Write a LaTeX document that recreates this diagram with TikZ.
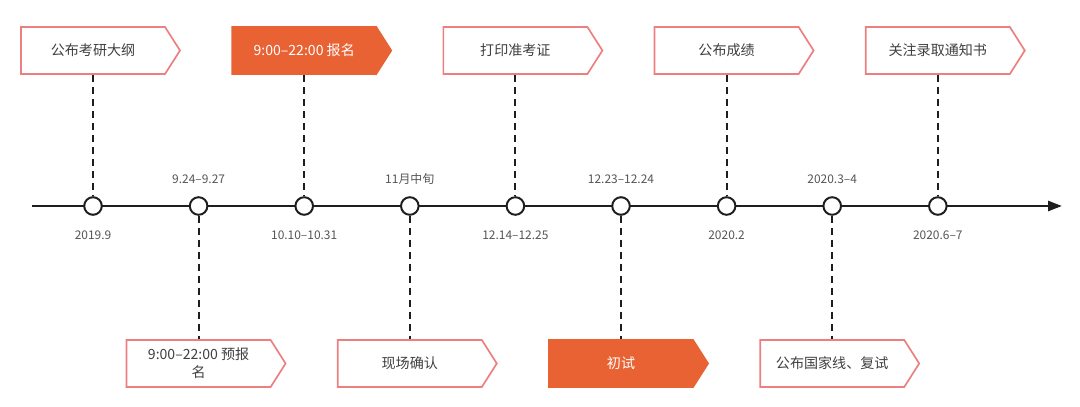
\documentclass[tikz,border=0pt]{standalone}
\usepackage{fontspec}
\newfontfamily\cjk{Noto Sans CJK SC}
\usepackage{xcolor}
\definecolor{tagorange}{RGB}{233,98,52}
\definecolor{tagpink}{RGB}{236,128,128}
\definecolor{tagtext}{RGB}{64,64,64}
\definecolor{datetext}{RGB}{85,85,85}
\definecolor{axisblack}{RGB}{30,30,30}
\usetikzlibrary{shapes.symbols,arrows.meta}

\begin{document}
\begin{tikzpicture}[
  x=0.025cm, y=-0.025cm,
  font=\cjk,
  % --- timeline style: edit visual look here --------------------------
  tag/.style={signal, signal to=east, signal from=nowhere,
              signal pointer angle=115, draw=tagpink, line width=1.2pt,
              fill=white, text=tagtext, font=\cjk\fontsize{10}{12.8}\selectfont,
              minimum width=3.975cm, minimum height=1.175cm, inner sep=0pt,
              align=center},
  hot/.style={tag, draw=tagorange, fill=tagorange, text=white},
  dot/.style={circle, draw=axisblack, fill=white, line width=1.4pt,
              minimum size=0.44cm, inner sep=0pt},
  date/.style={text=datetext, font=\cjk\fontsize{8.5}{10}\selectfont},
  axis/.style={axisblack, line width=1.9pt,
               -{Triangle[length=0.35cm, width=0.25cm]}},
  conn/.style={axisblack, line width=1.3pt,
               dash pattern=on 0.175cm off 0.125cm},
  % ---------------------------------------------------------------------
]
  \useasboundingbox (0,0) rectangle (1080,407);

  % Axis
  \coordinate (start) at (32,206);
  \coordinate (end) at (1062,206);
  \draw[axis] (start) -- (end);

  % Milestones on the axis
  \node[dot] (c1) at (93,206) {};
  \node[dot] (c2) at (198.6,206) {};
  \node[dot] (c3) at (304.2,206) {};
  \node[dot] (c4) at (409.8,206) {};
  \node[dot] (c5) at (515.4,206) {};
  \node[dot] (c6) at (621,206) {};
  \node[dot] (c7) at (726.6,206) {};
  \node[dot] (c8) at (832.2,206) {};
  \node[dot] (c9) at (937.8,206) {};

  % Dates
  \node[date] (d1) at (93,235) {2019.9};
  \node[date] (d2) at (198.6,179) {9.24–9.27};
  \node[date] (d3) at (304.2,235) {10.10–10.31};
  \node[date] (d4) at (409.8,179) {11月中旬};
  \node[date] (d5) at (515.4,235) {12.14–12.25};
  \node[date] (d6) at (621,179) {12.23–12.24};
  \node[date] (d7) at (726.6,235) {2020.2};
  \node[date] (d8) at (832.2,179) {2020.3–4};
  \node[date] (d9) at (937.8,235) {2020.6–7};

  % Events above the axis
  \node[tag] (t1) at (93,50.5) {公布考研大纲};
  \node[hot] (t3) at (304.2,50.5) {9:00–22:00 报名};
  \node[tag] (t5) at (515.4,50.5) {打印准考证};
  \node[tag] (t7) at (726.6,50.5) {公布成绩};
  \node[tag] (t9) at (937.8,50.5) {关注录取通知书};

  % Events below the axis
  \node[tag] (t2) at (198.6,363.5) {9:00–22:00 预报\\名};
  \node[tag] (t4) at (409.8,363.5) {现场确认};
  \node[hot] (t6) at (621,363.5) {初试};
  \node[tag] (t8) at (832.2,363.5) {公布国家线、复试};

  % Connectors
  \draw[conn] (t1.south) -- (c1.north);
  \draw[conn] (t3.south) -- (c3.north);
  \draw[conn] (t5.south) -- (c5.north);
  \draw[conn] (t7.south) -- (c7.north);
  \draw[conn] (t9.south) -- (c9.north);
  \draw[conn] (c2.south) -- (t2.north);
  \draw[conn] (c4.south) -- (t4.north);
  \draw[conn] (c6.south) -- (t6.north);
  \draw[conn] (c8.south) -- (t8.north);
\end{tikzpicture}
\end{document}
